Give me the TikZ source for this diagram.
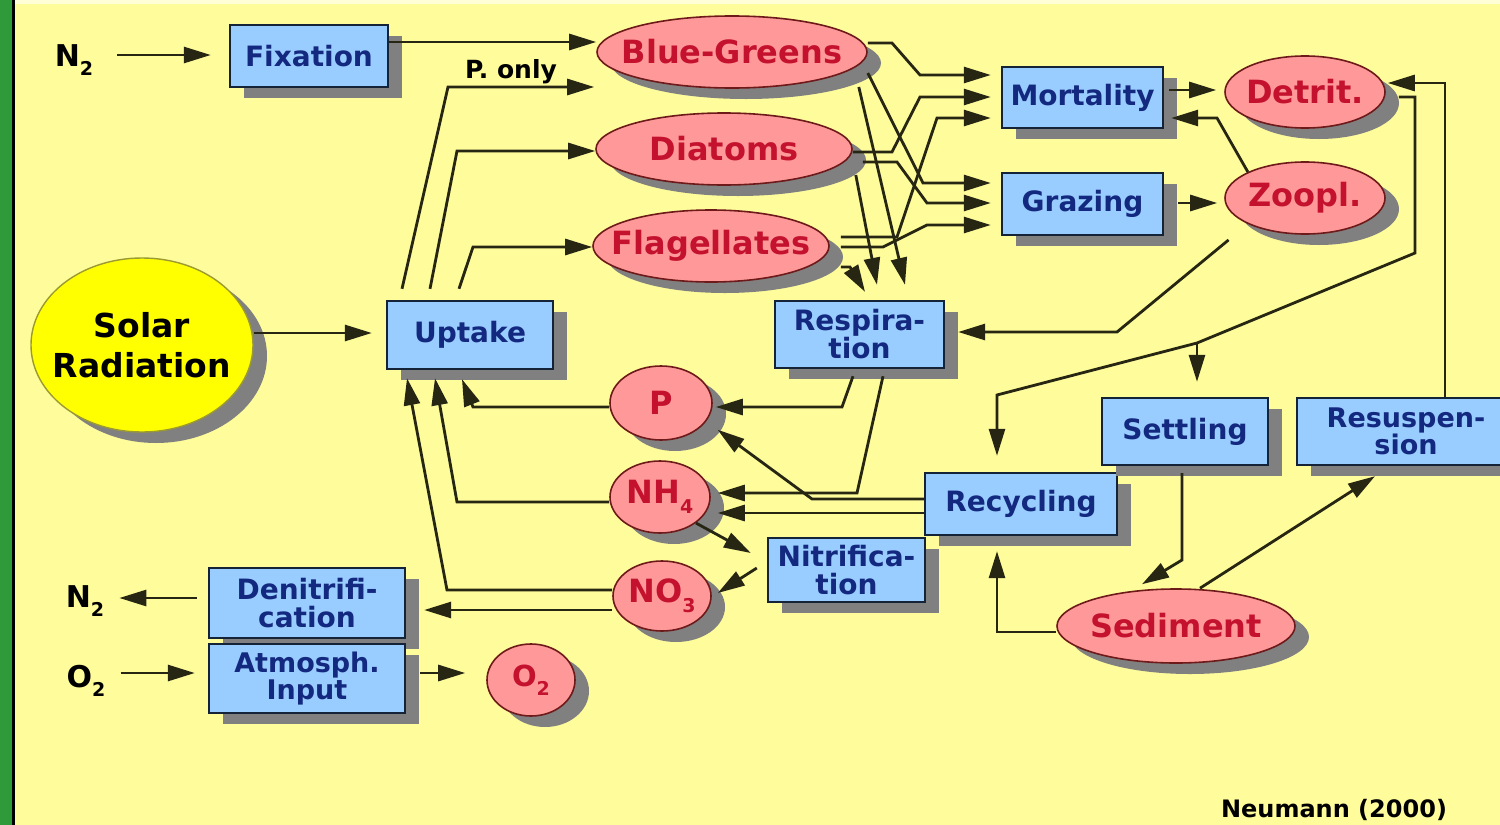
\documentclass[tikz,border=0pt]{standalone}
\usepackage{fontspec}
\setmainfont{DejaVu Sans}
\usetikzlibrary{arrows.meta,shadows,shapes.geometric}
\definecolor{bgc}{HTML}{FFFC9C}
\definecolor{greenc}{HTML}{2E9A3A}
\definecolor{boxfill}{HTML}{99CCFF}
\definecolor{boxline}{HTML}{142338}
\definecolor{boxtext}{HTML}{13287F}
\definecolor{ovalfill}{HTML}{FF9999}
\definecolor{ovalline}{HTML}{6E1A1A}
\definecolor{ovaltext}{HTML}{C4122E}
\definecolor{shadowc}{HTML}{808080}
\definecolor{linec}{HTML}{262612}
\definecolor{solfill}{HTML}{FFFF00}
\definecolor{solline}{HTML}{9A9A30}
\newcommand\bxfont{\fontsize{28}{28}\selectfont\bfseries}
\newcommand\tightfont{\fontsize{27}{25}\selectfont\bfseries}
\newcommand\ovfont{\fontsize{32}{32}\selectfont\bfseries}
\newcommand\zw[1]{\makebox[0pt]{#1}}
\newcommand\lsub[1]{\raisebox{-0.3em}{\fontsize{19}{19}\selectfont #1}}
\tikzset{
  shad/.style={drop shadow={shadow xshift=14pt, shadow yshift=-11pt, fill=shadowc, opacity=1}},
  box/.style={rectangle, draw=boxline, line width=2.4pt, fill=boxfill, text=boxtext, font=\bxfont, align=center, inner sep=0pt, shad},
  oval/.style={ellipse, draw=ovalline, line width=1.6pt, fill=ovalfill, text=ovaltext, font=\ovfont, inner sep=0pt, shad},
  plain/.style={text=black, font=\fontsize{30}{30}\selectfont\bfseries, inner sep=0pt},
  link/.style={draw=linec, line width=2.8pt, -{Triangle[length=27pt,width=16pt]}}
}
\begin{document}
\begin{tikzpicture}[x=1pt,y=-1pt]
\useasboundingbox (0,0) rectangle (1500,825);
\clip (0,0) rectangle (1500,825);
\fill[bgc] (0,0) rectangle (1500,825);
\fill[bgc!40!white] (15,0) rectangle (1500,4);
\fill[greenc] (0,0) rectangle (12,825);
\fill[black] (12,0) rectangle (15,825);

% boxes
\node[box, minimum width=158pt, minimum height=62pt] (fix) at (309,56) {Fixation};
\node[box, minimum width=166pt, minimum height=68pt] (upt) at (470,335) {Uptake};
\node[box, minimum width=161pt, minimum height=61pt] (mort) at (1082.5,97.5) {Mortality};
\node[box, minimum width=161pt, minimum height=62pt] (graz) at (1082.5,204) {Grazing};
\node[box, minimum width=169pt, minimum height=67pt] (resp) at (859.5,334.5) {Respira-\\tion};
\node[box, minimum width=192pt, minimum height=62pt] (rec) at (1021,504) {Recycling};
\node[box, minimum width=157pt, minimum height=64pt] (nit) at (846.5,570) {Nitrifica-\\tion};
\node[box, minimum width=166pt, minimum height=67pt] (set) at (1185,431.5) {Settling};
\node[box, font=\tightfont, minimum width=218pt, minimum height=67pt] (res) at (1406,431.5) {Resuspen-\\sion};
\node[box, minimum width=196pt, minimum height=70pt] (den) at (307,603) {Denitrifi-\\cation};
\node[box, font=\tightfont, minimum width=196pt, minimum height=69pt] (atm) at (307,678.5) {Atmosph.\\Input};

% ovals
\node[oval, minimum width=270pt, minimum height=72pt] (bg) at (732,52) {\zw{Blue-Greens}};
\node[oval, minimum width=256pt, minimum height=72pt] (dia) at (724,149) {\zw{Diatoms}};
\node[oval, minimum width=236pt, minimum height=72pt] (fla) at (711,246) {\zw{Flagellates}};
\node[oval, minimum width=160pt, minimum height=72pt] (det) at (1305,92) {\zw{Detrit.}};
\node[oval, minimum width=160pt, minimum height=72pt] (zoo) at (1305,198) {\zw{Zoopl.}};
\node[oval, minimum width=102pt, minimum height=74pt] (p) at (661,403) {\zw{P}};
\node[oval, minimum width=100pt, minimum height=72pt] (nh4) at (660,497) {\zw{NH\lsub{4}}};
\node[oval, minimum width=98pt, minimum height=70pt] (no3) at (662,596) {\zw{NO\lsub{3}}};
\node[oval, minimum width=238pt, minimum height=74pt] (sed) at (1176,626) {\zw{Sediment}};
\node[oval, minimum width=88pt, minimum height=72pt, font=\fontsize{29}{29}\selectfont\bfseries] (o2) at (531,680) {\zw{O\lsub{2}}};
\node[ellipse, draw=solline, line width=1.4pt, fill=solfill, inner sep=0pt, shad, text=black, align=center,
      font=\fontsize{33}{40}\selectfont\bfseries, minimum width=222pt, minimum height=174pt] (sol) at (142,345) {\zw{Solar}\\\zw{Radiation}};

% plain labels
\node[plain] (n2a) at (74,60) {N\lsub{2}};
\node[plain] (n2b) at (85,601) {N\lsub{2}};
\node[plain] (o2a) at (86,681) {O\lsub{2}};
\node[plain, font=\fontsize{25}{25}\selectfont\bfseries] (ponly) at (511,72) {P. only};
\node[plain, font=\fontsize{24}{24}\selectfont\bfseries] (neu) at (1334,810) {Neumann (2000)};

\coordinate (split) at (1197,343);

% connectors
\draw[link, shorten <=24pt] (n2a.east |- 0,55) -- ([xshift=-18pt]fix.west |- 0,55);
\draw[link] (fix.east |- 0,42) -- (bg.west |- 0,42);
\draw[link] ([yshift=11pt]upt.north -| 402,0) -- (448,87) -- ([xshift=-2pt]bg.west |- 0,87);
\draw[link] ([yshift=11pt]upt.north -| 430,0) -- (457,151) -- (dia.west |- 0,151);
\draw[link] ([yshift=11pt]upt.north -| 459,0) -- (473,247) -- (fla.west |- 0,247);
\draw[link] (sol.east |- 0,333) -- ([xshift=-14pt]upt.west |- 0,333);

\draw[link] (bg.east |- 0,43) -- (892,43) -- (920,75) -- ([xshift=-10pt]mort.west |- 0,75);
\draw[link] (bg.east |- 0,73) -- (923,183) -- ([xshift=-10pt]graz.west |- 0,183);
\draw[link] ([xshift=-9pt]bg.east |- 0,87) -- ([yshift=15pt]resp.north -| 905,0);
\draw[link] (dia.east |- 0,152) -- (892,152) -- (920,97) -- ([xshift=-10pt]mort.west |- 0,97);
\draw[link] ([xshift=10pt]dia.east |- 0,162) -- (897,162) -- (927,203) -- ([xshift=-10pt]graz.west |- 0,203);
\draw[link] ([xshift=3pt]dia.east |- 0,175) -- ([yshift=15pt]resp.north -| 877,0);
\draw[link] ([xshift=11pt]fla.east |- 0,237) -- (897,237) -- (937,118) -- ([xshift=-10pt]mort.west |- 0,118);
\draw[link] ([xshift=11pt]fla.east |- 0,247) -- (883,247) -- (927,225) -- ([xshift=-10pt]graz.west |- 0,225);
\draw[link] ([xshift=11pt]fla.east |- 0,267) -- (850,267) -- ([yshift=8pt]resp.north -| 865,0);

\draw[link] ([xshift=5pt]mort.east |- 0,90) -- ([xshift=-8pt]det.west |- 0,90);
\draw[link] (zoo.north west) -- (1217,118) -- ([xshift=7pt]mort.east |- 0,118);
\draw[link] ([xshift=14pt]graz.east |- 0,203) -- ([xshift=-7pt]zoo.west |- 0,203);
\draw[link] (res.north -| 1445,0) -- (1445,83) -- ([xshift=2pt]det.east |- 0,83);
\draw[link] ([xshift=13pt]det.east |- 0,97) -- (1415,97) -- (1415,253) -- (split) -- (997,395) -- ([yshift=16pt]rec.north -| 997,0);
\draw[link] (split) -- ([yshift=15pt]set.north -| 1197,0);
\draw[link, shorten <=25pt] (zoo.south west) -- (1117,332) -- ([xshift=13pt]resp.east |- 0,332);

\draw[link] ([yshift=-7pt]resp.south -| 853,0) -- (842,407) -- ([xshift=3pt]p.east |- 0,407);
\draw[link] ([yshift=-7pt]resp.south -| 883,0) -- (857,493) -- ([xshift=7pt]nh4.east |- 0,493);
\draw[link] (rec.west |- 0,499) -- (812,499) -- ([xshift=20pt]p.south east);
\draw[link] (rec.west |- 0,513) -- ([xshift=7pt]nh4.east |- 0,513);
\draw[link] (nh4.south east) -- ([xshift=-16pt]nit.west |- 0,553);
\draw[link] ([xshift=-10pt]nit.west |- 0,568) -- ([xshift=6pt]no3.east |- 0,593);

\draw[link] (p.west |- 0,407) -- (473,407) -- ([yshift=-9pt]upt.south -| 462,0);
\draw[link] (nh4.west |- 0,502) -- (457,502) -- ([yshift=-8pt]upt.south -| 435,0);
\draw[link] (no3.west |- 0,590) -- (447,590) -- ([yshift=-8pt]upt.south -| 407,0);
\draw[link] (no3.west |- 0,610) -- ([xshift=18pt]den.east |- 0,610);
\draw[link] ([xshift=-11pt]den.west |- 0,598) -- ([xshift=15pt]n2b.east |- 0,598);
\draw[link] ([xshift=15pt]o2a.east |- 0,673) -- ([xshift=-13pt]atm.west |- 0,673);
\draw[link] ([xshift=14pt]atm.east |- 0,673) -- ([xshift=-21pt]o2.west |- 0,673);

\draw[link] (sed.west |- 0,632) -- (997,632) -- ([yshift=-15pt]rec.south -| 997,0);
\draw[link] ([yshift=-7pt]set.south -| 1182,0) -- (1182,560) -- ([yshift=4pt]sed.north -| 1142,0);
\draw[link] ([xshift=24pt]sed.north) -- ([yshift=-10pt]res.south -| 1375,0);
\end{tikzpicture}
\end{document}
